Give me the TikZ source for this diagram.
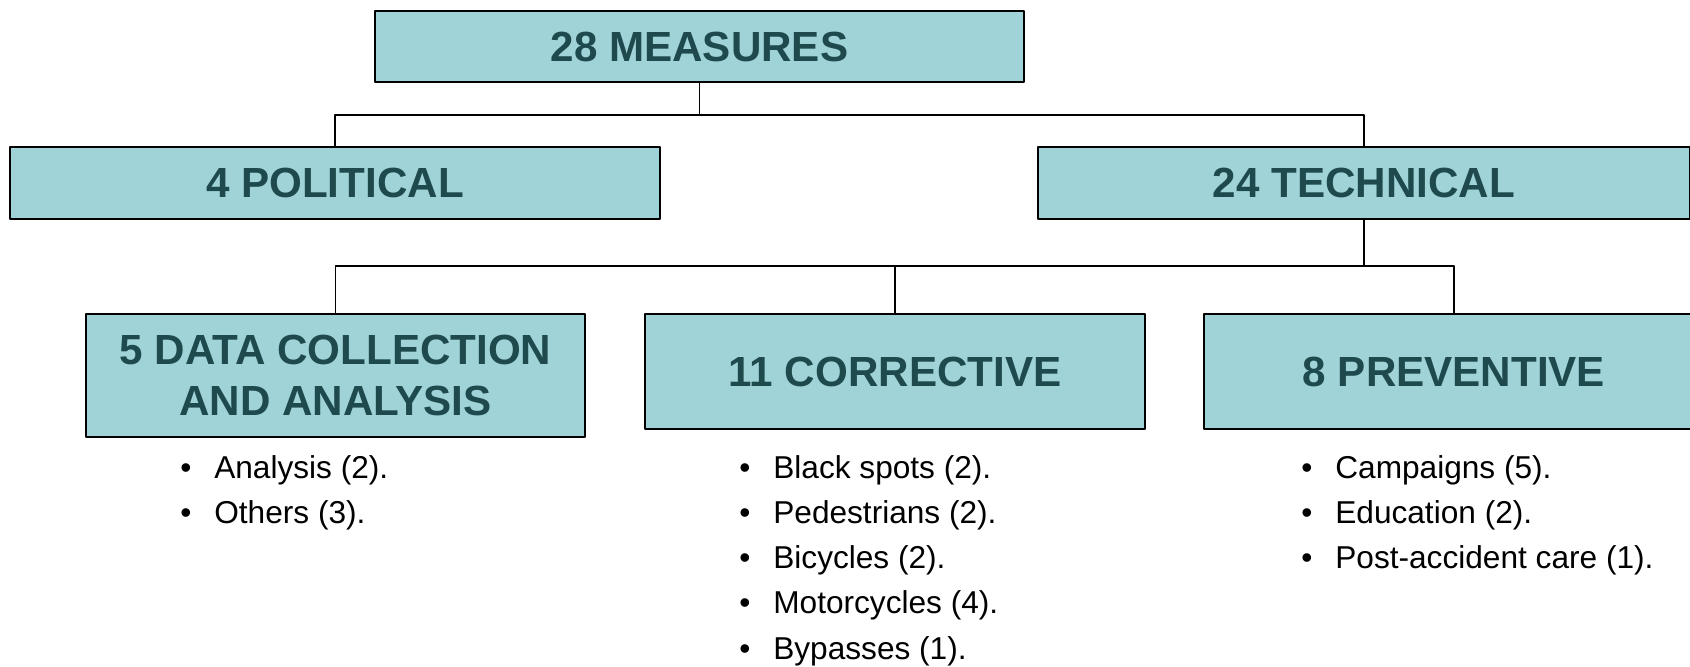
\documentclass[tikz,border=0pt]{standalone}
\usepackage{fontspec}
\setmainfont{Liberation Sans}
\definecolor{boxfill}{HTML}{A0D3D8}
\definecolor{boxtext}{HTML}{1F4A4D}
\tikzset{
  box/.style={draw=black, line width=1.1pt, fill=boxfill, text=boxtext,
    font=\fontsize{24}{29}\selectfont\bfseries, align=center, inner sep=0pt},
  item/.style={anchor=base west, inner sep=0pt, font=\fontsize{18}{21}\selectfont},
  link/.style={line width=1.1pt}
}
\newcommand\blt{\makebox[0.68cm][l]{\textbullet}}
\begin{document}
\begin{tikzpicture}[x=0.02cm, y=-0.02cm, line join=round]
  \useasboundingbox (0,0) rectangle (1690,666);
  \clip (0,0) rectangle (1690,666);
  % boxes
  \node[box, minimum width=12.98cm, minimum height=1.42cm] (top) at (699.5,46.5) {28 MEASURES};
  \node[box, minimum width=13cm, minimum height=1.44cm] (pol) at (335,183) {4 POLITICAL};
  \node[box, minimum width=13.04cm, minimum height=1.44cm] (tech) at (1364,183) {24 TECHNICAL};
  \node[box, minimum width=9.98cm, minimum height=2.46cm] (data) at (335.5,375.5) {5 DATA COLLECTION\\AND ANALYSIS};
  \node[box, minimum width=10cm, minimum height=2.3cm] (corr) at (895,371.5) {11 CORRECTIVE};
  \node[box, minimum width=10cm, minimum height=2.3cm] (prev) at (1454,371.5) {8 PREVENTIVE};
  % connectors
  \draw[link] (top.south) -- ++(0,32) coordinate (j1);
  \draw[link] (j1) -| (pol.north);
  \draw[link] (j1) -| (tech.north);
  \draw[link] (tech.south) -- ++(0,46) coordinate (j2);
  \draw[link] (j2) -| (data.north);
  \draw[link] (j2) -| (corr.north);
  \draw[link] (j2) -| (prev.north);
  % lists
  \foreach \t [count=\i] in {Analysis (2).,Others (3).}
    \node[item] (dat\i) at (180,478+45*\i-45) {\blt\t};
  \foreach \t [count=\i] in {Black spots (2).,Pedestrians (2).,Bicycles (2).,Motorcycles (4).,Bypasses (1).}
    \node[item] (cor\i) at (739,478+45.3*\i-45.3) {\blt\t};
  \foreach \t [count=\i] in {Campaigns (5).,Education (2).,Post-accident care (1).}
    \node[item] (pre\i) at (1301,478+45*\i-45) {\blt\t};
\end{tikzpicture}
\end{document}
